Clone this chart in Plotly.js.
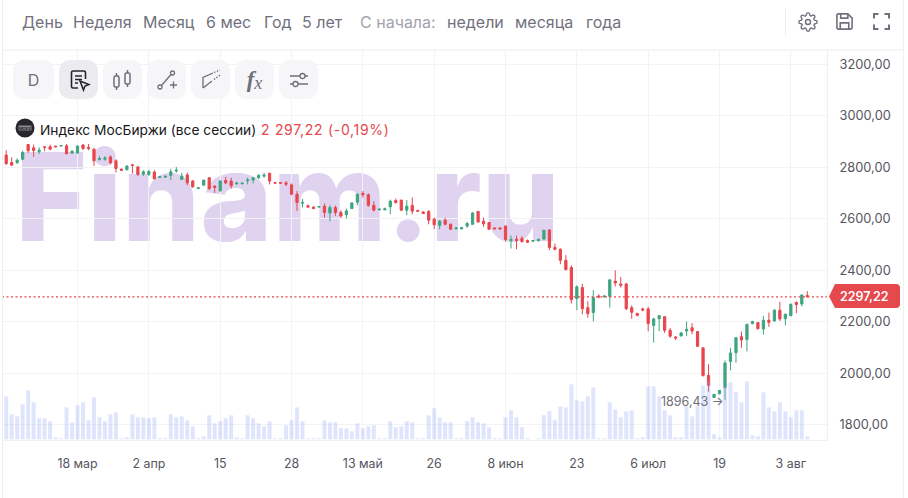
<!DOCTYPE html>
<html><head><meta charset="utf-8">
<script src="https://cdn.plot.ly/plotly-3.0.1.min.js"></script>
<style>
html,body{margin:0;padding:0;background:#fff;width:908px;height:498px;overflow:hidden}
#chart{position:absolute;left:0;top:0;width:908px;height:498px}
.btn{position:absolute;top:60px;width:39px;height:39px;border-radius:11px;background:#F6F6F8;display:flex;align-items:center;justify-content:center;color:#6F6F7B;font-family:Inter,sans-serif;font-size:16px}
.abs{position:absolute}
text[data-unformatted^="2 297"]{letter-spacing:.7px}
</style></head><body>
<div id="chart"></div>
<div class="btn" style="left:13px;width:41px">D</div>
<div class="btn" style="left:59px;background:#ECECF0"><svg width="24" height="24" viewBox="0 0 24 24" fill="none" stroke="#26262E" stroke-width="1.6"><path d="M11 20H6a1.5 1.5 0 0 1-1.5-1.5V4.500A1.500 1.500 0 0 1 6 3h11a1.500 1.500 0 0 1 1.500 1.500V11"/><path d="M8 8h7M8 11.500h7M8 15h3"/><path d="M13 13l9 3.500-4 1.500-1.500 4z"/></svg></div>
<div class="btn" style="left:103px"><svg width="24" height="24" viewBox="0 0 24 24" fill="none" stroke="#6F6F7B" stroke-width="1.500"><rect x="3" y="8" width="5" height="11" rx="1.500"/><rect x="14" y="5" width="5" height="11" rx="1.500"/><path d="M5.500 5v3M5.500 19v3M16.500 2v3M16.500 16v3"/></svg></div>
<div class="btn" style="left:147px"><svg width="24" height="24" viewBox="0 0 24 24" fill="none" stroke="#6F6F7B" stroke-width="1.300"><circle cx="5" cy="19" r="2"/><circle cx="17.500" cy="5" r="2"/><path d="M6.500 17.500L16 6.500M15 17h7M18.500 13.500v7"/></svg></div>
<div class="btn" style="left:191px"><svg width="24" height="24" viewBox="0 0 24 24" fill="none" stroke="#6F6F7B" stroke-width="1.300"><path d="M4 20V9.500L14 5M4 20l9-7"/><path d="M15 4.500l6-2.500M15 11.500l6-4.500" stroke-dasharray="1.500 1.500"/></svg></div>
<div class="btn" style="left:235px;font-family:'Liberation Serif',serif;font-style:italic;font-size:21px"><span style="font-weight:700;font-size:23px">f</span><span style="font-size:18px;position:relative;top:4px">x</span></div>
<div class="btn" style="left:279px"><svg width="24" height="24" viewBox="0 0 24 24" fill="none" stroke="#6F6F7B" stroke-width="1.300"><path d="M3 8h10M18 8h3M3 16h3M11 16h10"/><circle cx="15.500" cy="8" r="2.500"/><circle cx="8.500" cy="16" r="2.500"/></svg></div>
<svg class="abs" style="left:15px;top:118px" width="20" height="20" viewBox="0 0 20 20"><circle cx="10" cy="10" r="9.500" fill="#26262C"/><rect x="3.500" y="7.500" width="13" height="5" fill="#8A8A90"/><text x="10" y="11.500" font-size="4" font-family="Inter" font-weight="700" text-anchor="middle" fill="#26262C">MOEX</text></svg>
<div class="abs" style="left:785px;top:9px;width:1px;height:27px;background:#ECECF0"></div>
<svg class="abs" style="left:798px;top:12px" width="20" height="20" viewBox="0 0 24 24" fill="none" stroke="#71717D" stroke-width="1.700"><circle cx="12" cy="12" r="3"/><path d="M19.400 15a1.650 1.650 0 0 0 .33 1.820l.06.06a2 2 0 1 1-2.830 2.830l-.06-.06a1.650 1.650 0 0 0-2.820 1.170V21a2 2 0 1 1-4 0v-.09a1.650 1.650 0 0 0-2.820-1.170l-.06.06a2 2 0 1 1-2.830-2.830l.06-.06A1.650 1.650 0 0 0 3.090 14H3a2 2 0 1 1 0-4h.09a1.650 1.650 0 0 0 1.170-2.820l-.06-.06a2 2 0 1 1 2.830-2.830l.06.06A1.650 1.650 0 0 0 10 3.090V3a2 2 0 1 1 4 0v.09a1.650 1.650 0 0 0 2.820 1.170l.06-.06a2 2 0 1 1 2.830 2.830l-.06.06A1.650 1.650 0 0 0 20.910 10H21a2 2 0 1 1 0 4h-.09a1.650 1.650 0 0 0-1.510 1z"/></svg>
<svg class="abs" style="left:835px;top:12px" width="19" height="19" viewBox="0 0 20 20" fill="none" stroke="#71717D" stroke-width="1.700"><path d="M3.500 2h10L18 6.500V16a2 2 0 0 1-2 2H4a2 2 0 0 1-2-2V3.500A1.500 1.500 0 0 1 3.500 2z"/><path d="M6 2v4.500h7.500V2M5.500 18v-6.500h9V18"/></svg>
<svg class="abs" style="left:873px;top:13px" width="17" height="17" viewBox="0 0 17 17" fill="none" stroke="#71717D" stroke-width="2"><path d="M1 5.500V1h4.500M11.500 1H16v4.500M16 11.500V16h-4.500M5.500 16H1v-4.500"/></svg>
<div class="abs" style="left:903px;top:0;width:1px;height:498px;background:#F0F0F3"></div>
<div class="abs" style="left:2px;top:0;width:1px;height:498px;background:#EDEDF2"></div>
<script>
var tickIndex=[13,26,39,52,65,78,91,104,117,130,143];
var tickLabels=['18 мар','2 апр','15','28','13 май','26','8 июн','23','6 июл','19','3 авг'];
var priceTicks=[1800,2000,2200,2400,2600,2800,3000,3200];
var priceLabels=['1800,00','2000,00','2200,00','2400,00','2600,00','2800,00','3000,00','3200,00'];
var open=[2848,2819,2819,2832,2889,2876,2861,2880,2880,2883,2883,2884,2856,2857,2887,2878,2871,2830,2832,2841,2826,2793,2791,2810,2802,2774,2773,2782,2761,2762,2769,2786,2753,2771,2747,2718,2731,2760,2727,2709,2749,2747,2736,2736,2748,2751,2760,2766,2777,2741,2741,
2740,2732,2696,2661,2651,2646,2646,2649,2623,2644,2625,2616,2640,2665,2699,2694,2653,2635,2635,2647,2671,2673,2634,2653,2633,2627,2629,2599,2575,2595,2579,2561,2561,2572,2579,2629,2591,2586,2565,2565,2572,2515,2521,2524,2516,2513,2515,2522,2557,
2489,2482,2439,2411,2290,2333,2255,2236,2300,2297,2299,2358,2347,2347,2255,2233,2250,2250,2186,2212,2220,2167,2141,2145,2164,2177,2162,2099,1992,1906,1920,1944,2046,2080,2142,2131,2193,2197,2172,2206,2203,2245,2212,2224,2275,2269,2302];
var high=[2867,2839,2835,2865,2891,2889,2878,2883,2889,2884,2885,2891,2867,2885,2891,2891,2874,2844,2844,2847,2832,2796,2809,2814,2806,2789,2791,2789,2765,2767,2795,2802,2779,2780,2751,2722,2751,2761,2731,2751,2763,2760,2744,2740,2760,2763,2774,2779,2780,2744,2743,
2747,2738,2708,2677,2656,2649,2649,2660,2653,2651,2634,2640,2664,2699,2708,2699,2669,2639,2644,2675,2679,2674,2673,2683,2633,2630,2634,2605,2595,2604,2582,2566,2569,2588,2627,2630,2605,2588,2566,2566,2574,2535,2535,2533,2520,2517,2524,2556,2559,
2504,2485,2459,2420,2342,2348,2280,2323,2307,2303,2365,2400,2374,2352,2264,2234,2255,2258,2216,2224,2221,2176,2144,2158,2201,2195,2163,2099,2035,1918,1935,2050,2099,2141,2162,2193,2204,2198,2223,2236,2250,2278,2232,2271,2280,2307,2319];
var low=[2809,2805,2813,2828,2857,2841,2852,2863,2867,2880,2883,2852,2852,2852,2867,2867,2806,2828,2826,2812,2780,2787,2789,2776,2767,2767,2767,2753,2760,2761,2751,2780,2751,2731,2721,2717,2730,2712,2701,2706,2735,2718,2734,2735,2734,2738,2754,2760,2734,2738,2738,
2727,2692,2631,2644,2643,2638,2644,2605,2591,2612,2604,2601,2639,2653,2683,2647,2629,2634,2634,2618,2659,2630,2614,2618,2629,2620,2579,2560,2560,2575,2556,2560,2560,2565,2577,2585,2569,2556,2561,2560,2512,2485,2482,2507,2507,2512,2512,2517,2478,
2478,2424,2400,2271,2245,2229,2216,2202,2291,2294,2255,2338,2333,2245,2211,2221,2241,2163,2119,2163,2157,2138,2129,2144,2144,2151,2103,1987,1928,1905,1919,1896.43,2011,2041,2099,2085,2190,2171,2151,2180,2201,2203,2186,2221,2234,2260,2295];
var close=[2815,2809,2828,2858,2865,2866,2867,2878,2871,2880,2885,2853,2863,2883,2874,2874,2826,2834,2837,2818,2796,2789,2805,2808,2773,2783,2784,2756,2764,2766,2783,2789,2766,2740,2725,2721,2751,2718,2722,2747,2740,2729,2739,2739,2751,2760,2769,2770,2747,2739,2739,
2735,2696,2664,2664,2646,2640,2648,2625,2644,2625,2611,2631,2662,2696,2694,2653,2634,2638,2639,2669,2664,2634,2649,2630,2630,2621,2595,2577,2591,2579,2560,2565,2566,2582,2623,2588,2581,2560,2561,2561,2520,2520,2516,2512,2509,2516,2520,2556,2489,
2482,2439,2403,2286,2336,2251,2232,2294,2297,2300,2363,2351,2342,2251,2237,2225,2246,2193,2211,2224,2167,2144,2137,2157,2171,2164,2105,1991,1953,1918,1933,2040,2079,2138,2129,2190,2201,2173,2206,2198,2245,2211,2229,2268,2267,2304,2297.22];
var volume=[43,25,23,35,49,37,21,21,18,2,1,32,17,34,37,19,42,22,18,25,27,1,2,25,22,22,21,22,1,1,25,22,23,19,13,1,3,24,16,18,21,24,2,1,24,21,16,13,18,1,1,14,19,32,18,1,1,1,19,17,17,11,11,8,16,11,13,14,1,1,18,12,13,18,17,1,1,24,31,22,17,17,1,1,18,22,17,16,12,1,1,22,29,22,12,1,0,1,24,28,19,33,32,55,39,38,43,52,1,1,37,30,22,28,29,1,2,53,53,43,29,24,2,2,33,23,33,54,58,5,2,53,57,47,37,58,4,3,47,32,28,37,28,22,29,29,3];
var lastPrice=2297.22;
var lowPrice=1896.43;

var W=908,H=498,L=2,R=827,T=50,B=440;
function px(x){return (x-L)/(R-L);}
function py(y){return (B-y)/(B-T);}
var idx=open.map(function(_,i){return i;});
var font='Inter, sans-serif';
function label(x,y,text,color,size,anchor){return {xref:'paper',yref:'paper',x:px(x),y:py(y),text:text,showarrow:false,xanchor:anchor||'left',yanchor:'middle',font:{family:font,size:size,color:color}};}
var menu=[[20,'День'],[71,'Неделя'],[141,'Месяц'],[204,'6 мес'],[262,'Год'],[300,'5 лет'],[445,'недели'],[513,'месяца'],[584,'года']];
var anns=menu.map(function(m){return label(m[0],22,m[1],'#71717D',16);});
anns.push(label(358,22,'С начала:','#A3A3AD',16));
anns.push(label(38,129.500,'Индекс МосБиржи (все сессии)','#17171C',13.750));
anns.push(label(259,129.500,'2 297,22 (-0,19%)','#E5484D',14));
anns.push(label(864,296.500,'2297,22','#FFFFFF',12.500,'center'));
anns[anns.length-1].font.weight=600;
anns.push({x:131,y:lowPrice,xref:'x',yref:'y',text:'1896,43 →',showarrow:false,xanchor:'right',yanchor:'middle',xshift:1,yshift:-2,font:{family:font,size:12.500,color:'#6F6F78'}});
function tagPath(){
  var x2=px(900),x3=px(896),yt=py(284),ym=py(296.500),yb=py(308),r1=py(288),r2=py(304);
  return 'M'+px(829)+','+ym+' L'+px(835)+','+yt+' L'+x3+','+yt+' Q'+x2+','+yt+' '+x2+','+r1+' L'+x2+','+r2+' Q'+x2+','+yb+' '+x3+','+yb+' L'+px(835)+','+yb+' Z';
}
var traces=[
 {type:'candlestick',x:idx,open:open,high:high,low:low,close:close,xaxis:'x',yaxis:'y',whiskerwidth:0,
  increasing:{line:{color:'#3EA57F',width:1},fillcolor:'#3EA57F'},decreasing:{line:{color:'#E8464C',width:1},fillcolor:'#E8464C'},hoverinfo:'skip'},
 {type:'bar',x:idx,y:volume,width:0.72,xaxis:'x',yaxis:'y2',marker:{color:'rgba(148,168,248,0.3)',line:{width:0}},hoverinfo:'skip'}
];
var layout={width:W,height:H,autosize:false,showlegend:false,dragmode:false,boxgap:0.42,
 paper_bgcolor:'#FFFFFF',plot_bgcolor:'#FFFFFF',
 margin:{l:L,r:W-R,t:T,b:H-B,pad:0},font:{family:font,size:13,color:'#55555E'},
 xaxis:{range:[-0.765,149.590],tickmode:'array',tickvals:tickIndex,ticktext:tickLabels,showgrid:true,gridcolor:'#F3F3F6',gridwidth:1,ticklen:0,ticklabelstandoff:12,zeroline:false,showline:true,linecolor:'#F0F0F3',rangeslider:{visible:false},tickfont:{family:font,size:12.400,color:'#55555E'},fixedrange:true},
 yaxis:{side:'right',range:[1740.600,3256.400],tickmode:'array',tickvals:priceTicks,ticktext:priceLabels,showgrid:true,gridcolor:'#F3F3F6',gridwidth:1,ticklen:0,ticklabelstandoff:9,zeroline:false,showline:true,linecolor:'#F0F0F3',tickfont:{family:font,size:12.800,color:'#55555E'},fixedrange:true},
 yaxis2:{overlaying:'y',side:'right',range:[-0.700,389.300],showgrid:false,showticklabels:false,ticklen:0,zeroline:false,fixedrange:true},
 annotations:anns,
 shapes:[
  {type:'rect',layer:'below',xref:'paper',yref:'paper',x0:px(18),x1:px(557),y0:py(147),y1:py(238),line:{width:0},fillcolor:'rgba(0,0,0,0)',
   label:{text:'Finam.ru',textposition:'middle center',font:{family:font,size:123,color:'#E0D3F0',weight:800}}},
  {type:'line',xref:'paper',yref:'y',x0:0,x1:1,y0:lastPrice,y1:lastPrice,line:{color:'#E8464C',width:1.300,dash:'2px,2.500px'}},
  {type:'path',xref:'paper',yref:'paper',path:tagPath(),fillcolor:'#E5484D',line:{width:0}},
  {type:'line',xref:'paper',yref:'paper',x0:0,x1:px(903),y0:1,y1:1,line:{color:'#EDEDF2',width:1}}
 ]
};
Plotly.newPlot('chart',traces,layout,{staticPlot:true,displayModeBar:false});
</script>
</body></html>
